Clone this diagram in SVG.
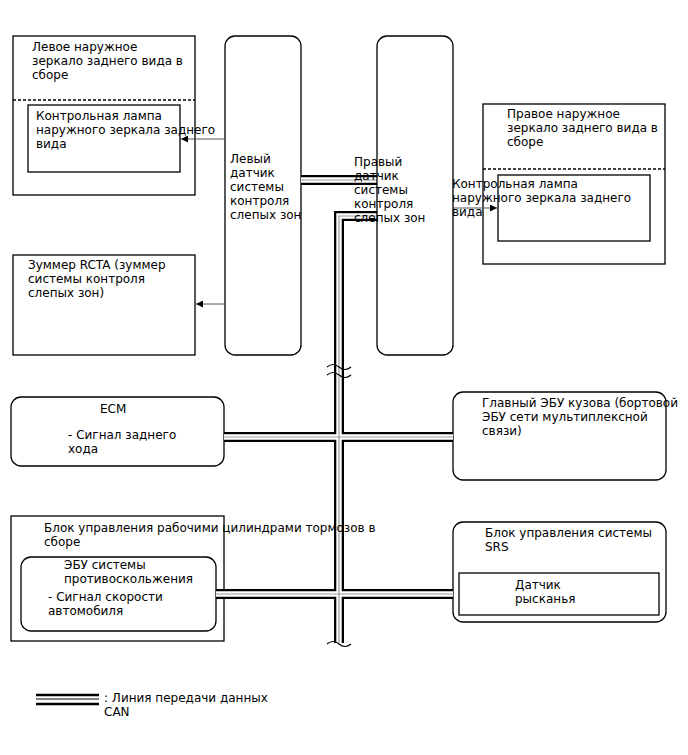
<svg xmlns="http://www.w3.org/2000/svg" width="688" height="755" viewBox="0 0 688 755">
<defs>
<marker id="ah" viewBox="0 0 10 10" refX="10" refY="5" markerWidth="10" markerHeight="7" markerUnits="userSpaceOnUse" orient="auto">
<path d="M0,0 L10,5 L0,10 z" fill="#000"/>
</marker>
<path id="bus" d="M301,180 H377 M377,216 H339 V643 M224,437 H453 M216,594 H453"/>
</defs>
<style>
.box{fill:#fff;stroke:#000;stroke-width:1.3}
.dash{stroke:#000;stroke-width:1.3;stroke-dasharray:3,2;fill:none}
.t{font-family:"DejaVu Sans",sans-serif;font-size:12px;fill:#000}
.arr{stroke:#555;stroke-width:1;fill:none;marker-end:url(#ah)}
.b1{fill:none;stroke:#000;stroke-width:10}
.b2{fill:none;stroke:#fff;stroke-width:5.4}
.b3{fill:none;stroke:#999;stroke-width:1.2}
.wave{fill:none;stroke:#000;stroke-width:1.2}
</style>
<rect width="688" height="755" fill="#fff"/>

<g id="left-mirror">
<rect class="box" x="13" y="36" width="182" height="159"/>
<line class="dash" x1="13" y1="100" x2="195" y2="100"/>
<text class="t" x="32" y="51">Левое наружное</text>
<text class="t" x="32" y="65">зеркало заднего вида в</text>
<text class="t" x="32" y="79">сборе</text>
</g>
<g id="left-lamp">
<rect class="box" x="28" y="105" width="152" height="67"/>
<text class="t" x="36" y="120">Контрольная лампа</text>
<text class="t" x="36" y="134">наружного зеркала заднего</text>
<text class="t" x="36" y="148">вида</text>
</g>

<g id="left-sensor">
<rect class="box" x="225" y="36" width="76" height="319" rx="10"/>
<text class="t" x="230" y="163">Левый</text>
<text class="t" x="230" y="177">датчик</text>
<text class="t" x="230" y="191">системы</text>
<text class="t" x="230" y="205">контроля</text>
<text class="t" x="230" y="219">слепых зон</text>
</g>

<g id="right-mirror">
<rect class="box" x="483" y="104" width="182" height="160"/>
<line class="dash" x1="483" y1="169" x2="665" y2="169"/>
<text class="t" x="507" y="118">Правое наружное</text>
<text class="t" x="507" y="132">зеркало заднего вида в</text>
<text class="t" x="507" y="146">сборе</text>
</g>
<g id="right-lamp">
<rect class="box" x="498" y="175" width="152" height="66"/>
</g>

<g id="buzzer">
<rect class="box" x="13" y="255" width="182" height="100"/>
<text class="t" x="28" y="269">Зуммер RCTA (зуммер</text>
<text class="t" x="28" y="283">системы контроля</text>
<text class="t" x="28" y="297">слепых зон)</text>
</g>

<g id="ecm">
<rect class="box" x="11" y="397" width="213" height="69" rx="10"/>
<text class="t" x="100" y="413">ECM</text>
<text class="t" x="68" y="439">- Сигнал заднего</text>
<text class="t" x="68" y="453">хода</text>
</g>

<g id="main-body-ecu">
<rect class="box" x="453" y="392" width="213" height="88" rx="10"/>
<text class="t" x="482" y="407">Главный ЭБУ кузова (бортовой</text>
<text class="t" x="482" y="421">ЭБУ сети мультиплексной</text>
<text class="t" x="482" y="435">связи)</text>
</g>

<g id="brake-actuator">
<rect class="box" x="11" y="516" width="213" height="125"/>
</g>
<g id="skid-ecu">
<rect class="box" x="21" y="557" width="195" height="74" rx="10"/>
<text class="t" x="64" y="569">ЭБУ системы</text>
<text class="t" x="64" y="583">противоскольжения</text>
<text class="t" x="48" y="601">- Сигнал скорости</text>
<text class="t" x="48" y="615">автомобиля</text>
</g>

<g id="srs">
<rect class="box" x="453" y="522" width="213" height="100" rx="10"/>
<text class="t" x="485" y="537">Блок управления системы</text>
<text class="t" x="485" y="551">SRS</text>
</g>
<g id="yaw-sensor">
<rect class="box" x="459" y="573" width="200" height="42"/>
<text class="t" x="515" y="589">Датчик</text>
<text class="t" x="515" y="603">рысканья</text>
</g>

<g id="connectors">
<use href="#bus" class="b1"/>
<use href="#bus" class="b2"/>
<use href="#bus" class="b3"/>
<path class="wave" d="M327,367 q6,-5 12,0 t12,0"/>
<path class="wave" d="M327,375 q6,-5 12,0 t12,0"/>
<path class="wave" d="M327,644 q6,-5 12,0 t12,0"/>
<line class="arr" x1="225" y1="139" x2="181" y2="139"/>
<line class="arr" x1="225" y1="304" x2="196" y2="304"/>
<line class="arr" x1="453" y1="208" x2="497" y2="208"/>
</g>

<g id="right-sensor">
<rect class="box" x="377" y="36" width="76" height="319" rx="10" style="fill:none"/>
<text class="t" x="354" y="166">Правый</text>
<text class="t" x="354" y="180">датчик</text>
<text class="t" x="354" y="194">системы</text>
<text class="t" x="354" y="208">контроля</text>
<text class="t" x="354" y="222">слепых зон</text>
</g>

<g id="labels">
<text class="t" x="452" y="188">Контрольная лампа</text>
<text class="t" x="452" y="202">наружного зеркала заднего</text>
<text class="t" x="452" y="216">вида</text>
<text class="t" x="44" y="532">Блок управления рабочими цилиндрами тормозов в</text>
<text class="t" x="44" y="546">сборе</text>
</g>

<g id="legend">
<line x1="36" y1="695" x2="99" y2="695" stroke="#000" stroke-width="2.6"/>
<line x1="36" y1="699" x2="99" y2="699" stroke="#000" stroke-width="1.2"/>
<line x1="36" y1="704" x2="99" y2="704" stroke="#000" stroke-width="2.6"/>
<text class="t" x="104" y="702">: Линия передачи данных</text>
<text class="t" x="104" y="716">CAN</text>
</g>
</svg>
